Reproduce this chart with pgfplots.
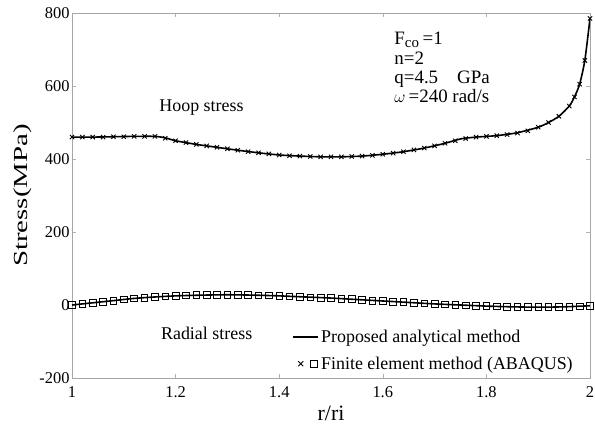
\documentclass[border=0pt]{standalone}
\usepackage{pgfplots}
\pgfplotsset{compat=1.18}
\usepackage{fontspec}
\setmainfont{Liberation Serif}
\begin{document}
\begin{tikzpicture}
\begin{axis}[
  scale only axis, width=518bp, height=365bp,
  xmin=1, xmax=2, ymin=-200, ymax=800,
  xtick={1,1.2,1.4,1.6,1.8,2}, ytick={-200,0,200,400,600,800},
  xticklabels={1,1.2,1.4,1.6,1.8,2},
  /pgf/number format/assume math mode=true,
  tick align=inside, tick style={gray!60, line width=0.6bp}, major tick length=4bp,
  axis line style={gray!70, line width=0.8bp},
  ticklabel style={font=\fontsize{16.5}{19}\selectfont},
  xticklabel style={yshift=-5bp},
  yticklabel style={xshift=1bp},
  xlabel={r/ri}, ylabel={Stress(MPa)},
  xlabel style={font=\fontsize{22}{24}\selectfont, yshift=-1bp},
  ylabel style={font=\fontsize{20}{22}\selectfont, xscale=1.45, yshift=1bp},
  legend style={at={(axis cs:1.425,-62)}, anchor=north west, draw=none, fill=none,
    font=\fontsize{18}{20}\selectfont, row sep=9bp, inner sep=0pt,
    nodes={inner sep=2bp}},
  legend cell align=left,
]
% analytical hoop
\addplot[black, line width=1.6bp, smooth, tension=0.4,
  legend image code/.code={\draw[black, line width=1.8bp] (0bp,0bp) -- (25bp,0bp);}] coordinates {
(1.00,460)(1.04,460)(1.08,461)(1.12,462)(1.16,462)(1.18,458)(1.20,450)(1.24,440)(1.28,432)(1.32,424)(1.36,417)(1.40,411)(1.44,408)(1.48,406)(1.52,406)(1.56,408)(1.60,413)(1.64,420)(1.68,430)(1.72,443)(1.75,455)(1.78,460)(1.82,464)(1.86,472)(1.90,487)(1.92,500)(1.94,517)(1.96,545)(1.97,570)(1.98,605)(1.99,670)(2.00,785)};
\addlegendentry{Proposed analytical method}
% analytical radial
\addplot[black, line width=1.6bp, smooth, forget plot] coordinates {
(1.00,0)(1.04,6)(1.08,12)(1.12,18)(1.16,22)(1.20,25)(1.25,27)(1.30,28)(1.35,27)(1.40,25)(1.45,22)(1.50,19)(1.55,15)(1.60,11)(1.65,7)(1.70,3)(1.75,0)(1.80,-3)(1.85,-5)(1.90,-6)(1.95,-5)(2.00,-2)};
% FE hoop
\addplot[only marks, mark=x, mark size=3bp, black, line width=0.9bp, forget plot] coordinates {
(1.00,460)(1.02,460)(1.04,460)(1.06,460)(1.08,461)(1.10,461)(1.12,462)(1.14,462)(1.16,462)(1.18,457)(1.20,450)(1.22,445)(1.24,440)(1.26,436)(1.28,432)(1.30,428)(1.32,424)(1.34,420)(1.36,417)(1.38,414)(1.40,411)(1.42,409)(1.44,408)(1.46,407)(1.48,406)(1.50,406)(1.52,406)(1.54,407)(1.56,408)(1.58,410)(1.60,413)(1.62,416)(1.64,420)(1.66,425)(1.68,430)(1.70,436)(1.72,443)(1.74,450)(1.76,456)(1.78,460)(1.80,462)(1.82,464)(1.84,467)(1.86,471)(1.88,477)(1.90,487)(1.92,500)(1.94,517)(1.96,545)(1.97,570)(1.98,605)(1.99,670)(2.00,785)};
% FE radial
\addplot[only marks, mark=square, mark size=3.3bp, black, line width=0.8bp,
  legend image code/.code={
    \draw[black, line width=0.8bp] (5bp,-2.5bp) -- (10bp,2.5bp) (5bp,2.5bp) -- (10bp,-2.5bp);
    \draw[black, line width=0.9bp] (17bp,-3.5bp) rectangle (24bp,3.5bp);}] coordinates {
(1.00,0)(1.02,3)(1.04,6)(1.06,9)(1.08,12)(1.10,15)(1.12,18)(1.14,20)(1.16,22)(1.18,24)(1.20,25)(1.22,26)(1.24,27)(1.26,27.5)(1.28,28)(1.30,28)(1.32,28)(1.34,27)(1.36,26.5)(1.38,26)(1.40,25)(1.42,24)(1.44,23)(1.46,21)(1.48,20)(1.50,19)(1.52,17)(1.54,16)(1.56,14)(1.58,12)(1.60,11)(1.62,9)(1.64,8)(1.66,6)(1.68,4)(1.70,3)(1.72,2)(1.74,0)(1.76,-1)(1.78,-2)(1.80,-3)(1.82,-4)(1.84,-5)(1.86,-5)(1.88,-6)(1.90,-6)(1.92,-6)(1.94,-5)(1.96,-5)(1.98,-4)(2.00,-2)};
\addlegendentry{Finite element method (ABAQUS)}
\node[anchor=center, font=\fontsize{18}{20}\selectfont] at (axis cs:1.25,542) {Hoop stress};
\node[anchor=center, font=\fontsize{18}{20}\selectfont] at (axis cs:1.26,-77) {Radial stress};
\node[anchor=north west, align=left, font=\fontsize{19}{19.5}\selectfont, inner sep=0pt] at (axis cs:1.622,748)
  {F$_{\mbox{\fontsize{15}{15}\selectfont co}}$\,=1\\n=2\\q=4.5\quad GPa\\$\omega$\,=240 rad/s};
\end{axis}
\pgfresetboundingbox
\path[use as bounding box] (current axis.south west) ++(-72bp,-51bp) rectangle ++(595bp,429bp);
\end{tikzpicture}
\end{document}
